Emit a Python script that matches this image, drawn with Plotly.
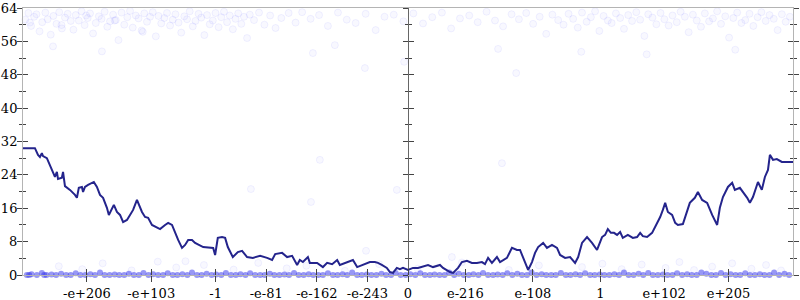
import struct
import plotly.graph_objects as go

# ---------------- data ----------------
# x values are positions on the floating-point ordinal scale, in percent of
# the largest finite double (negative = negative numbers); y = bits of error.
tick_values = [-1e206, -1e103, -1.0, -1e-81, -1e-162, -1e-243, 0.0,
               1e-216, 1e-108, 1.0, 1e102, 1e205]
tick_labels = ["-e+206", "-e+103", "-1", "-e-81", "-e-162", "-e-243", "0",
               "e-216", "e-108", "1", "e+102", "e+205"]

line_x = [-100.0, -96.9, -96.1, -95.6, -95.1, -94.8, -93.8, -93.0, -92.2, -91.7,
          -91.2, -90.9, -89.9, -89.6, -89.1, -87.8, -86.5, -86.0, -85.5, -84.7,
          -84.4, -83.9, -83.1, -82.1, -81.6, -80.8, -80.0, -79.2, -78.2, -77.7,
          -76.9, -76.4, -75.6, -74.8, -74.0, -73.0, -72.2, -71.4, -70.4, -70.1,
          -69.1, -68.3, -67.5, -66.5, -65.2, -64.4, -63.1, -62.3, -61.3, -60.5,
          -59.7, -58.7, -57.9, -57.1, -56.1, -55.3, -54.0, -53.2, -50.6, -50.1,
          -49.4, -48.3, -47.5, -46.8, -45.5, -44.2, -43.1, -41.8, -40.3, -38.4,
          -36.6, -35.3, -34.5, -32.7, -31.4, -30.1, -28.8, -28.1, -27.3, -26.0,
          -25.5, -23.6, -22.1, -21.0, -19.7, -18.4, -17.7, -15.8, -14.3, -13.2,
          -11.7, -9.9, -8.6, -7.8, -6.8, -5.5, -4.7, -3.9, -2.9, -2.1,
          -1.3, 0.0, 1.3, 2.6, 5.2, 6.5, 8.3, 9.1, 10.9, 11.7,
          13.0, 14.0, 15.3, 16.6, 17.9, 19.2, 20.0, 20.8, 21.8, 23.1,
          23.9, 25.7, 27.0, 28.3, 29.1, 29.9, 31.2, 32.2, 33.0, 33.8,
          35.1, 36.1, 37.4, 38.7, 39.5, 40.8, 42.1, 43.4, 44.2, 45.2,
          46.5, 47.8, 49.1, 50.4, 51.2, 51.9, 52.7, 53.5, 54.3, 55.1,
          55.8, 57.1, 58.4, 59.5, 60.3, 61.0, 62.1, 63.4, 64.2, 65.5,
          66.2, 66.8, 67.5, 68.6, 69.4, 70.1, 71.4, 72.5, 73.2, 74.5,
          75.3, 76.4, 77.7, 79.0, 80.3, 81.0, 81.8, 83.1, 84.2, 84.9,
          86.2, 88.1, 88.8, 89.6, 90.9, 91.9, 92.7, 93.5, 94.0, 94.8,
          95.8, 97.1, 100.0]
line_y = [30.4, 30.4, 28.8, 28.3, 29.2, 28.5, 28.0, 26.4, 24.4, 23.5,
          24.7, 23.0, 23.3, 24.7, 21.3, 20.4, 19.2, 18.5, 20.9, 21.1,
          19.9, 21.1, 21.6, 22.1, 22.3, 21.1, 19.2, 18.5, 16.1, 14.4,
          16.1, 16.8, 15.1, 14.4, 12.7, 13.2, 14.4, 15.6, 18.0, 17.3,
          15.1, 13.9, 13.7, 12.0, 11.3, 11.0, 12.0, 12.5, 12.0, 10.1,
          8.4, 6.5, 7.2, 8.4, 8.4, 7.7, 7.2, 6.7, 6.5, 4.8,
          8.9, 9.1, 8.9, 6.7, 4.3, 5.5, 5.8, 4.3, 4.1, 4.6,
          4.1, 3.6, 5.0, 5.3, 4.3, 4.6, 2.4, 3.6, 3.1, 4.3,
          2.9, 2.9, 1.9, 2.9, 2.6, 3.6, 2.4, 3.1, 3.6, 1.9,
          2.4, 3.1, 3.1, 2.9, 2.4, 1.7, 0.7, 0.5, 1.7, 1.4,
          1.7, 1.2, 1.7, 1.7, 2.4, 1.9, 2.4, 1.7, 0.7, 0.5,
          1.7, 3.1, 3.4, 2.9, 2.9, 3.1, 2.6, 4.1, 2.9, 4.3,
          3.1, 4.1, 6.5, 6.0, 6.0, 4.3, 1.2, 3.1, 5.3, 6.7,
          7.7, 6.5, 7.2, 6.5, 4.8, 4.1, 4.3, 2.9, 4.3, 7.7,
          9.1, 7.7, 6.0, 9.1, 9.6, 11.0, 10.1, 10.1, 9.6, 10.3,
          8.9, 9.6, 8.9, 9.1, 10.1, 9.3, 9.1, 10.1, 11.5, 13.9,
          15.6, 17.3, 15.1, 14.4, 12.5, 12.0, 12.2, 15.1, 17.3, 18.5,
          19.9, 18.0, 17.3, 14.4, 12.0, 16.1, 18.7, 21.1, 22.1, 20.4,
          20.9, 18.5, 17.3, 18.7, 22.3, 20.4, 23.5, 25.2, 28.8, 27.6,
          27.8, 27.1, 27.1]

top_x = [-99.4, -98.6, -97.9, -97.1, -96.5, -95.7, -95.0, -94.2, -93.6, -92.8,
         -92.1, -91.3, -90.6, -89.9, -89.1, -88.4, -87.6, -86.9, -86.3, -85.5,
         -84.8, -84.0, -83.2, -82.6, -81.8, -81.1, -80.3, -79.6, -78.8, -78.1,
         -77.4, -76.6, -75.9, -75.2, -74.4, -73.7, -72.9, -72.2, -71.5, -70.7,
         -70.0, -69.2, -68.5, -67.8, -67.0, -66.3, -65.5, -64.8, -64.1, -63.3,
         -62.6, -61.8, -61.1, -60.4, -59.6, -58.9, -58.1, -57.4, -56.7, -55.9,
         -55.2, -54.4, -53.7, -52.9, -52.2, -51.5, -50.7, -50.0, -49.2, -48.5,
         -47.8, -47.0, -46.3, -45.5, -44.8, -44.1, -43.3, -42.6, -41.8, -41.1,
         -40.0, -38.7, -37.3, -35.8, -34.4, -32.9, -31.0, -29.2, -27.5, -25.3,
         -23.1, -20.8, -18.2, -15.9, -13.6, -11.0, -8.4, -6.1, -3.7, -1.2,
         1.4, 3.9, 6.3, 8.8, 11.2, 13.5, 15.9, 18.1, 20.4, 22.6,
         24.7, 26.9, 28.8, 30.7, 32.5, 34.2, 35.9, 37.5, 39.0, 40.4,
         41.7, 42.9, 44.1, 45.2, 46.4, 47.5, 48.6, 49.7, 50.8, 51.9,
         52.9, 54.0, 55.1, 56.1, 57.2, 58.2, 59.3, 60.3, 61.4, 62.4,
         63.5, 64.5, 65.6, 66.6, 67.7, 68.7, 69.8, 70.8, 71.9, 72.9,
         74.0, 75.0, 76.1, 77.1, 78.2, 79.2, 80.3, 81.3, 82.4, 83.4,
         84.5, 85.5, 86.6, 87.6, 88.7, 89.7, 90.8, 91.8, 92.9, 93.9,
         95.0, 96.0, 97.1, 98.1, 99.2, -98.2, -90.0, -83.6, -76.2, -68.9]
top_y = [61.2, 62.8, 59.7, 61.9, 62.5, 58.4, 60.6, 62.9, 61.3, 57.6,
         62.1, 60.2, 63.0, 59.1, 61.7, 62.6, 60.9, 58.8, 62.3, 61.0,
         63.2, 59.9, 61.6, 62.7, 57.9, 60.4, 62.0, 61.4, 63.1, 59.5,
         60.8, 62.4, 61.1, 56.3, 62.9, 60.0, 61.8, 63.3, 59.3, 62.2,
         61.5, 58.6, 62.7, 60.7, 61.9, 63.0, 57.2, 62.1, 60.3, 61.6,
         62.8, 59.8, 61.2, 62.5, 60.5, 58.1, 62.0, 61.3, 63.2, 59.6,
         60.9, 62.6, 61.7, 57.5, 62.3, 60.1, 61.0, 62.8, 59.4, 61.8,
         63.1, 60.6, 62.2, 58.9, 61.4, 62.7, 60.2, 61.9, 56.8, 62.4,
         61.1, 62.9, 60.0, 62.2, 59.2, 61.6, 62.8, 60.5, 63.0, 61.4,
         62.3, 59.7, 62.9, 61.2, 60.4, 62.6, 58.7, 61.9, 62.4, 60.8,
         62.7, 60.3, 61.8, 62.9, 59.1, 61.5, 62.2, 60.6, 63.1, 61.0,
         59.6, 62.5, 61.3, 62.8, 60.2, 61.9, 57.8, 62.4, 61.1, 60.0,
         62.6, 61.4, 59.3, 62.9, 60.7, 61.8, 63.2, 58.5, 62.1, 61.0,
         60.4, 62.7, 61.6, 59.0, 62.3, 60.9, 63.0, 61.2, 57.3, 62.5,
         61.7, 60.1, 62.8, 61.3, 59.8, 62.2, 60.6, 63.1, 61.9, 58.2,
         62.4, 61.0, 59.5, 62.7, 60.8, 61.5, 63.2, 60.2, 62.0, 56.9,
         61.6, 62.9, 60.4, 61.1, 62.6, 59.7, 61.8, 63.0, 60.9, 62.3,
         61.4, 58.7, 62.5, 60.7, 61.9, 60.5, 59.9, 62.2, 61.0, 58.3]

mid_x = [-24.7, -19.0, -11.2, -1.0, 23.4, 28.1, -22.9, -40.8, -25.2, -10.9,
         -2.9, 24.4, 11.4, -92.2, -79.5, 62.0, 85.0, 45.0]
mid_y = [53.2, 55.1, 49.6, 51.1, 54.2, 48.4, 27.6, 20.6, 17.5, 5.8,
         20.4, 26.8, 4.3, 54.8, 53.6, 52.9, 54.0, 53.5]

bottom_x = [-99.0, -97.8, -96.4, -95.1, -93.9, -92.6, -91.4, -90.1, -88.8, -87.6,
            -86.3, -85.1, -83.8, -82.5, -81.3, -80.0, -78.8, -77.5, -76.2, -75.0,
            -73.7, -72.5, -71.2, -69.9, -68.7, -67.4, -66.2, -64.9, -63.6, -62.4,
            -61.1, -59.9, -58.6, -57.3, -56.1, -54.8, -53.6, -52.3, -51.0, -49.8,
            -48.5, -47.3, -46.0, -44.7, -43.5, -42.2, -41.0, -39.7, -38.4, -37.2,
            -35.9, -34.7, -33.4, -32.1, -30.9, -29.6, -28.4, -27.1, -25.8, -24.6,
            -23.3, -22.1, -20.8, -19.5, -18.3, -17.0, -15.8, -14.5, -13.2, -12.0,
            -10.7, -9.5, -8.2, -6.9, -5.7, -4.4, -3.2, -1.9, -0.6, 0.6,
            1.9, 3.2, 4.4, 5.7, 6.9, 8.2, 9.5, 10.7, 12.0, 13.2,
            14.5, 15.8, 17.0, 18.3, 19.5, 20.8, 22.1, 23.3, 24.6, 25.8,
            27.1, 28.4, 29.6, 30.9, 32.1, 33.4, 34.7, 35.9, 37.2, 38.4,
            39.7, 41.0, 42.2, 43.5, 44.7, 46.0, 47.3, 48.5, 49.8, 51.0,
            52.3, 53.6, 54.8, 56.1, 57.3, 58.6, 59.9, 61.1, 62.4, 63.6,
            64.9, 66.2, 67.4, 68.7, 69.9, 71.2, 72.5, 73.7, 75.0, 76.2,
            77.5, 78.8, 80.0, 81.3, 82.5, 83.8, 85.1, 86.3, 87.6, 88.8,
            90.1, 91.4, 92.6, 93.9, 95.1, 96.4, 97.8, 99.0, -98.4, -94.5]
bottom_y = [0.0, 0.2, 0.0, 0.5, 0.0, 0.1, 0.0, 0.3, 0.0, 0.0,
            0.4, 0.0, 0.0, 0.2, 0.0, 0.6, 0.0, 0.0, 0.1, 0.0,
            0.0, 0.3, 0.0, 0.0, 0.5, 0.0, 0.2, 0.0, 0.0, 0.4,
            0.0, 0.0, 0.2, 0.0, 0.6, 0.0, 0.0, 0.3, 0.0, 0.1,
            0.0, 0.5, 0.0, 0.0, 0.2, 0.0, 0.4, 0.0, 0.0, 0.0,
            0.3, 0.0, 0.0, 0.1, 0.0, 0.5, 0.0, 0.0, 0.2, 0.0,
            0.0, 0.0, 0.4, 0.0, 0.0, 0.2, 0.0, 0.6, 0.0, 0.0,
            0.1, 0.0, 0.0, 0.3, 0.0, 0.0, 0.5, 0.0, 0.0, 0.2,
            0.0, 0.4, 0.0, 0.0, 0.1, 0.0, 0.0, 0.6, 0.0, 0.3,
            0.0, 0.0, 0.2, 0.0, 0.5, 0.0, 0.0, 0.1, 0.0, 0.4,
            0.0, 0.3, 0.0, 0.0, 0.6, 0.0, 0.2, 0.0, 0.0, 0.0,
            0.5, 0.0, 0.0, 0.2, 0.0, 0.4, 0.0, 0.0, 0.1, 0.0,
            0.0, 0.2, 0.0, 0.6, 0.0, 0.0, 0.3, 0.0, 0.5, 0.0,
            0.0, 0.1, 0.0, 0.0, 0.4, 0.0, 0.2, 0.0, 0.0, 0.6,
            0.3, 0.0, 0.0, 0.5, 0.0, 0.2, 0.0, 0.0, 0.4, 0.0,
            0.0, 0.2, 0.0, 0.0, 0.6, 0.0, 0.3, 0.0, 0.0, 0.0]

low_x = [-90.7, -84.6, -79.3, -71.8, -65.0, -60.2, -53.0, -45.3, -38.9, -31.5,
         -26.4, -16.4, -7.5, 2.5, 14.0, 26.2, 34.0, 45.2, 50.5, 55.5,
         60.7, 66.9, 70.5, 74.3, 79.0, 84.2, 89.2, 93.0, 96.9, -57.8]
low_y = [2.1, 1.4, 2.8, 1.1, 3.2, 1.8, 2.4, 1.3, 2.9, 1.6,
         2.2, 1.0, 2.6, 1.5, 3.0, 1.2, 2.3, 1.9, 2.7, 1.4,
         2.5, 1.7, 3.1, 1.2, 2.0, 2.8, 1.5, 2.4, 1.1, 3.3]


# ---------------- scale helper: float -> ordinal position (percent) ----------
def ordinal_pct(v):
    if v == 0:
        return 0.0
    bits = struct.unpack('<q', struct.pack('<d', abs(v)))[0]
    top = struct.unpack('<q', struct.pack('<d', 1.7976931348623157e308))[0]
    return (1 if v > 0 else -1) * bits / top * 100.0


tick_pos = [ordinal_pct(v) for v in tick_values]

FONT = dict(family="'DejaVu Serif', 'Liberation Serif', serif", size=13,
            color="black")
FRAME = "#b4b4b4"
TICK = "#444444"

dot_fill = "rgba(70,70,255,0.035)"
dot_edge = "rgba(70,70,255,0.07)"

fig = go.Figure()

for xs, ys in [(top_x, top_y), (mid_x, mid_y), (low_x, low_y)]:
    fig.add_trace(go.Scatter(
        x=xs, y=ys, mode="markers", cliponaxis=False,
        marker=dict(size=7, color=dot_fill, line=dict(width=1, color=dot_edge)),
        showlegend=False, hoverinfo="skip"))

fig.add_trace(go.Scatter(
    x=bottom_x, y=bottom_y, mode="markers", cliponaxis=False,
    marker=dict(size=6, color="rgba(50,50,235,0.5)",
                line=dict(width=0)),
    showlegend=False, hoverinfo="skip"))

fig.add_trace(go.Scatter(
    x=line_x, y=line_y, mode="lines",
    line=dict(color="rgb(36,36,140)", width=2),
    showlegend=False, hoverinfo="skip"))

# dummy traces so overlay axes are drawn
for xa, ya in [("x2", "y"), ("x", "y2"), ("x", "y3"), ("x", "y4")]:
    fig.add_trace(go.Scatter(x=[None], y=[None], xaxis=xa, yaxis=ya,
                             showlegend=False, hoverinfo="skip"))

yticks = dict(range=[0, 64], tick0=0, dtick=8, showgrid=False, zeroline=False,
              automargin=False)

fig.update_layout(
    width=800, height=300,
    margin=dict(l=23, r=7, t=8, b=25, autoexpand=False),
    paper_bgcolor="white", plot_bgcolor="white",
    xaxis=dict(range=[-100, 100], tickmode="array", tickvals=tick_pos,
               ticktext=tick_labels, tickfont=FONT, ticks="outside",
               ticklen=6, tickcolor=TICK, showline=True, linecolor=FRAME,
               linewidth=1, mirror=True, showgrid=False, zeroline=False,
               automargin=False),
    xaxis2=dict(range=[-100, 100], overlaying="x", anchor="y",
                tickmode="array", tickvals=tick_pos, ticks="inside",
                ticklen=6, tickcolor=TICK, showticklabels=False,
                showline=False, showgrid=False, zeroline=False,
                automargin=False),
    yaxis=dict(**yticks, tickfont=FONT, ticks="outside", ticklen=5,
               ticklabelstandoff=-3,
               tickcolor=TICK, showline=True, linecolor=FRAME, linewidth=1,
               mirror="ticks",
               minor=dict(dtick=4, ticks="outside", ticklen=3,
                          tickcolor=TICK, showgrid=False)),
    yaxis2=dict(**yticks, overlaying="y", anchor="x", ticks="inside",
                ticklen=5, tickcolor=TICK, showticklabels=False,
                showline=False, mirror="ticks",
                minor=dict(dtick=4, ticks="inside", ticklen=3,
                           tickcolor=TICK, showgrid=False)),
    yaxis3=dict(**yticks, overlaying="y", anchor="free", position=0.5,
                ticks="outside", ticklen=5, tickcolor=TICK,
                showticklabels=False, showline=True, linecolor="#666666",
                linewidth=1,
                minor=dict(dtick=4, ticks="outside", ticklen=3,
                           tickcolor=TICK, showgrid=False)),
    yaxis4=dict(**yticks, overlaying="y", anchor="free", position=0.5,
                ticks="inside", ticklen=5, tickcolor=TICK,
                showticklabels=False, showline=False,
                minor=dict(dtick=4, ticks="inside", ticklen=3,
                           tickcolor=TICK, showgrid=False)),
)

fig.write_html("out.html")
